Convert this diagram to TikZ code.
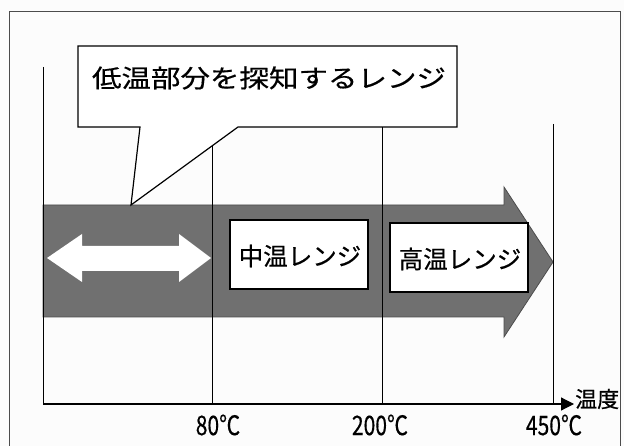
\documentclass[tikz,border=0pt]{standalone}
\usepackage{fontspec}
\setmainfont[FakeBold=0.5]{Noto Sans CJK JP}
\newfontfamily\widefont[FakeStretch=1.18,FakeBold=0.5]{Noto Sans CJK JP}
\newfontfamily\narrowfont[FakeStretch=0.78,FakeBold=0.4]{Noto Sans CJK JP}
\usetikzlibrary{arrows.meta}
\definecolor{bargray}{RGB}{112,112,112}
\definecolor{paper}{RGB}{252,252,252}
\begin{document}
\begin{tikzpicture}[x=1pt,y=-1pt,
  thinline/.style={draw=black,line width=0.9pt},
  whitebox/.style={draw=black,line width=1.2pt,fill=white},
  lbl/.style={inner sep=0pt,font=\narrowfont\fontsize{27}{27}\selectfont},
  boxtext/.style={inner sep=0pt,font=\fontsize{24.5}{24.5}\selectfont}]
\useasboundingbox (0,0) rectangle (624,446);
\fill[paper] (0,0) rectangle (624,446);
% outer frame
\draw[draw=black!70,line width=1pt] (9,446) -- (9,12) -- (620,12) -- (620,446);
% big arrow bar
\draw[fill=bargray,draw=black!70,line width=0.8pt]
  (43,205) -- (504,205) -- (504,187) -- (553,262) -- (504,337) -- (504,317) -- (43,317) -- cycle;
% vertical lines
\coordinate (l0t) at (43,67);   \coordinate (l0b) at (43,404);
\coordinate (l1t) at (212,124); \coordinate (l1b) at (212,404);
\coordinate (l2t) at (382,124); \coordinate (l2b) at (382,404);
\coordinate (l3t) at (553,124); \coordinate (l3b) at (553,404);
\draw[thinline] (l0t) -- (l0b);
\draw[thinline] (l1t) -- (l1b);
\draw[thinline] (l2t) -- (l2b);
\draw[thinline] (l3t) -- (l3b);
% callout
\draw[fill=white,draw=black,line width=1.2pt]
  (78,46) -- (457,46) -- (457,127) -- (238,127) -- (131,205) -- (140,127) -- (78,127) -- cycle;
\node[inner sep=0pt,font=\widefont\fontsize{25}{25}\selectfont] (callout) at (269,78) {低温部分を探知するレンジ};
% double arrow
\fill[white] (47,258) -- (82,234) -- (82,246) -- (179,246) -- (179,234) -- (211,258)
  -- (179,282) -- (179,271) -- (82,271) -- (82,282) -- cycle;
% range boxes
\draw[whitebox] (230,220) rectangle (368,289);
\node[boxtext] (mid) at (300,256) {中温レンジ};
\draw[whitebox] (390,223) rectangle (528,292);
\node[boxtext] (high) at (460,259) {高温レンジ};
% axis
\coordinate (ax0) at (43,404);
\coordinate (ax1) at (574,404);
\draw[line width=1.2pt,-{Triangle[length=13pt,width=13pt]}] (ax0) -- (ax1);
\node[inner sep=0pt,anchor=west,font=\fontsize{22}{22}\selectfont] (axlabel) at (575,399) {温度};
\node[lbl] (t80) at (218,425) {80℃};
\node[lbl] (t200) at (380,425) {200℃};
\node[lbl] (t450) at (554,425) {450℃};
\end{tikzpicture}
\end{document}
